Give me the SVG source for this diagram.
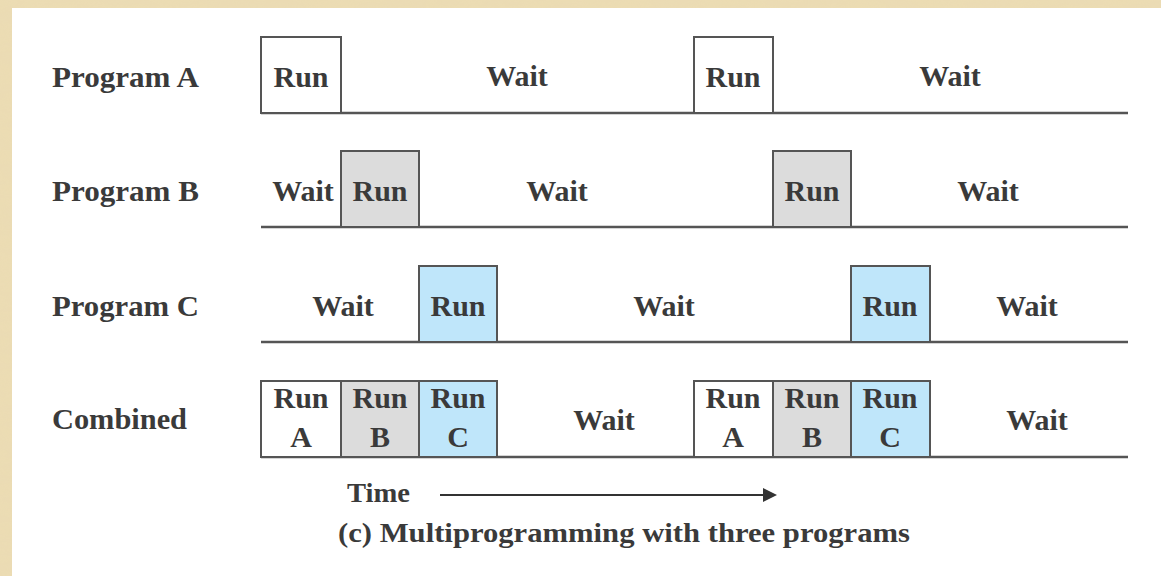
<svg xmlns="http://www.w3.org/2000/svg" width="1161" height="576" viewBox="0 0 1161 576">
<defs>
<style>
text{font-family:"Liberation Serif","Times New Roman",serif;font-weight:bold;font-size:30px;fill:#3a3a3a}
.m{text-anchor:middle}
.box{stroke:#555;stroke-width:2}
.w{fill:#fff}
.g{fill:#dcdcdc}
.b{fill:#bfe6fa}
.ln{stroke:#555;stroke-width:2.5;fill:none}
</style>
<filter id="tex"><feTurbulence type="fractalNoise" baseFrequency="0.02 0.08" numOctaves="3" seed="3"/><feColorMatrix values="0 0 0 0 0.80 0 0 0 0 0.70 0 0 0 0 0.50 0 0 0 0.6 0"/><feComposite in2="SourceGraphic" operator="in"/></filter>
</defs>
<rect width="1161" height="576" fill="#ecdcb2"/>
<rect width="1161" height="576" fill="#fff" filter="url(#tex)" opacity="0.5"/>
<rect x="12" y="8" width="1149" height="568" fill="#fff"/>

<g id="labels">
<text x="52" y="87" textLength="147" lengthAdjust="spacingAndGlyphs">Program A</text>
<text x="52" y="201" textLength="147" lengthAdjust="spacingAndGlyphs">Program B</text>
<text x="52" y="316" textLength="147" lengthAdjust="spacingAndGlyphs">Program C</text>
<text x="52" y="429" textLength="135" lengthAdjust="spacingAndGlyphs">Combined</text>
</g>

<g id="connectors">
<line class="ln" x1="261" y1="113" x2="1128" y2="113"/>
<line class="ln" x1="261" y1="227" x2="1128" y2="227"/>
<line class="ln" x1="261" y1="342" x2="1128" y2="342"/>
<line class="ln" x1="261" y1="457" x2="1128" y2="457"/>
<line x1="440" y1="495" x2="766" y2="495" stroke="#333" stroke-width="2"/>
<polygon points="763,488 777,495 763,502" fill="#333"/>
</g>

<g id="rowA">
<rect class="box w" x="261" y="37" width="80" height="76"/>
<text class="m" x="301" y="87">Run</text>
<text class="m" x="517" y="86">Wait</text>
<rect class="box w" x="694" y="37" width="79" height="76"/>
<text class="m" x="733" y="87">Run</text>
<text class="m" x="950" y="86">Wait</text>
</g>

<g id="rowB">
<text class="m" x="303" y="201">Wait</text>
<rect class="box g" x="341" y="151" width="78" height="76"/>
<text class="m" x="380" y="201">Run</text>
<text class="m" x="557" y="201">Wait</text>
<rect class="box g" x="773" y="151" width="78" height="76"/>
<text class="m" x="812" y="201">Run</text>
<text class="m" x="988" y="201">Wait</text>
</g>

<g id="rowC">
<text class="m" x="343" y="316">Wait</text>
<rect class="box b" x="419" y="266" width="78" height="76"/>
<text class="m" x="458" y="316">Run</text>
<text class="m" x="664" y="316">Wait</text>
<rect class="box b" x="851" y="266" width="79" height="76"/>
<text class="m" x="890" y="316">Run</text>
<text class="m" x="1027" y="316">Wait</text>
</g>

<g id="combined">
<rect class="box w" x="261" y="381" width="80" height="76"/>
<text class="m" x="301" y="408">Run</text><text class="m" x="301" y="447">A</text>
<rect class="box g" x="341" y="381" width="78" height="76"/>
<text class="m" x="380" y="408">Run</text><text class="m" x="380" y="447">B</text>
<rect class="box b" x="419" y="381" width="78" height="76"/>
<text class="m" x="458" y="408">Run</text><text class="m" x="458" y="447">C</text>
<text class="m" x="604" y="430">Wait</text>
<rect class="box w" x="694" y="381" width="79" height="76"/>
<text class="m" x="733" y="408">Run</text><text class="m" x="733" y="447">A</text>
<rect class="box g" x="773" y="381" width="78" height="76"/>
<text class="m" x="812" y="408">Run</text><text class="m" x="812" y="447">B</text>
<rect class="box b" x="851" y="381" width="79" height="76"/>
<text class="m" x="890" y="408">Run</text><text class="m" x="890" y="447">C</text>
<text class="m" x="1037" y="430">Wait</text>
</g>

<g id="time">
<text x="347" y="502" style="font-size:27px" textLength="63" lengthAdjust="spacingAndGlyphs">Time</text>
<text x="338" y="542" style="font-size:27px" textLength="572" lengthAdjust="spacingAndGlyphs">(c) Multiprogramming with three programs</text>
</g>
</svg>
